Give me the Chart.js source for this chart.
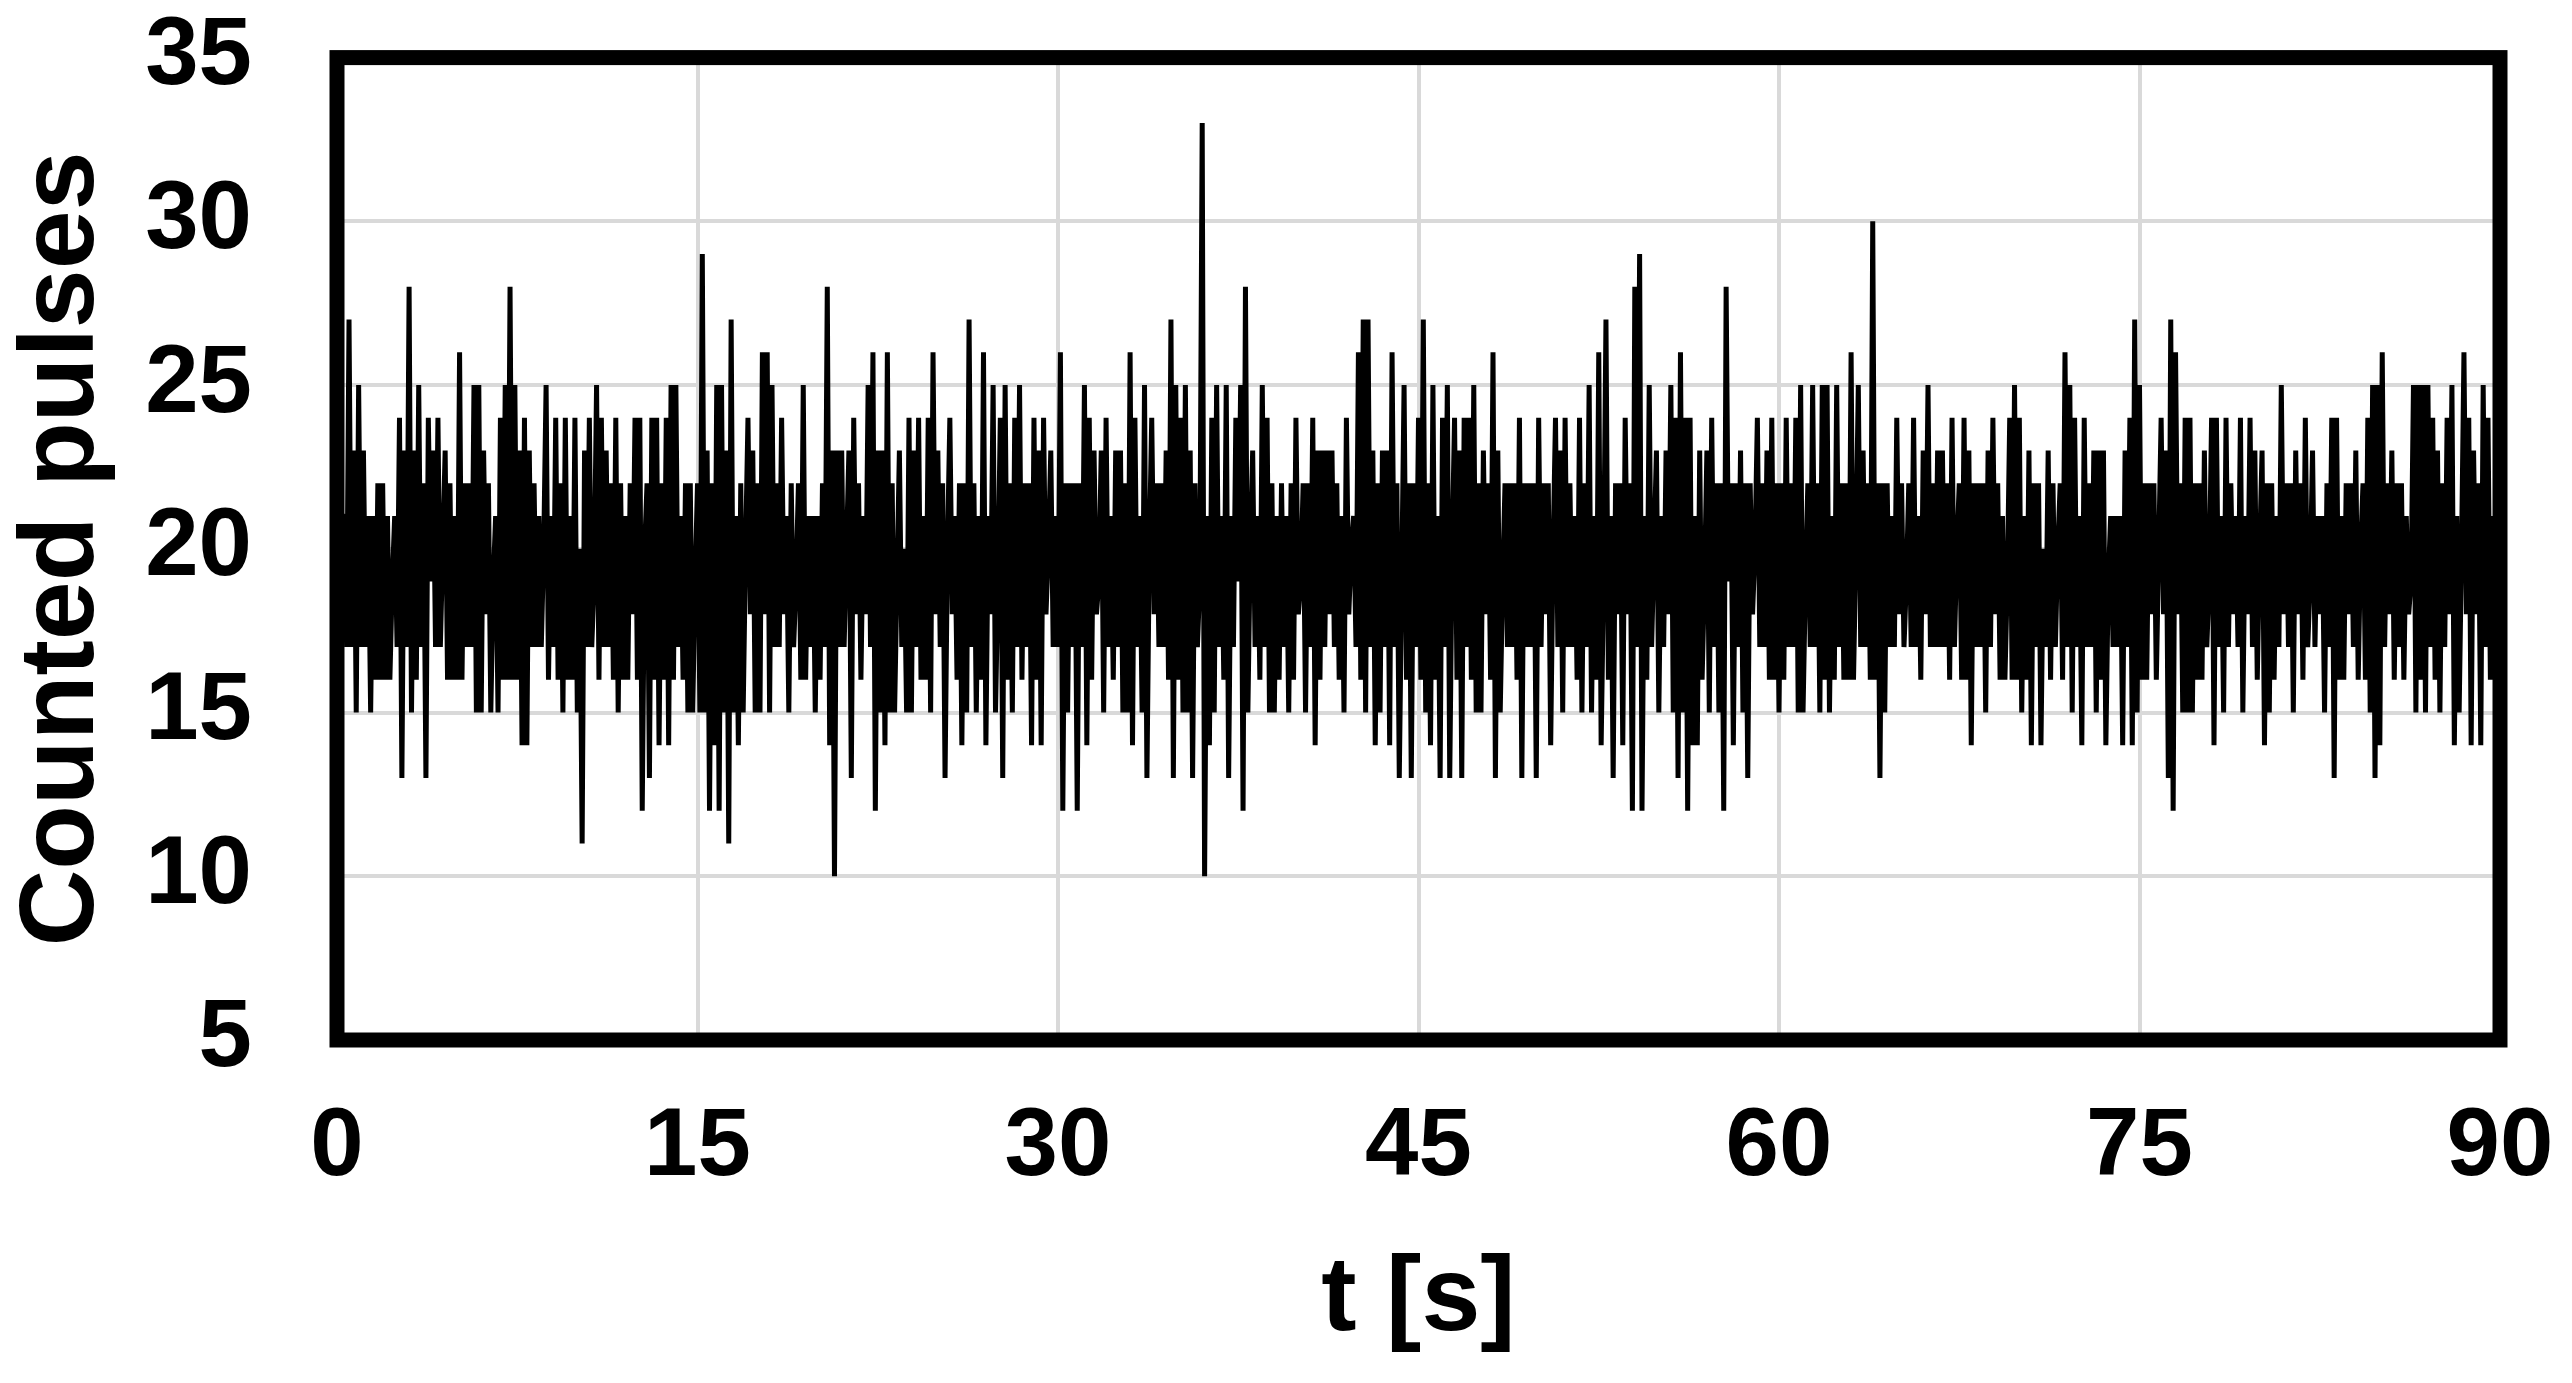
<!DOCTYPE html>
<html>
<head>
<meta charset="utf-8">
<title>Counted pulses</title>
<script src="https://cdn.jsdelivr.net/npm/chart.js@4.4.1/dist/chart.umd.min.js"></script>
<style>
  html, body { margin: 0; padding: 0; background: #fff; }
  canvas { display: block; }
</style>
</head>
<body>
<canvas id="pulseChart" width="2572" height="1383"></canvas>
<script>
// counts per 0.1 s gate (t = 0 .. 90 s)
const dt = 0.1;
const counts = [
  20,18,21,
  21,17,27,17,23,15,25,17,23,17,21,15,21,16,22,16,22,16,21,16,19,
  21,17,24,13,23,17,28,15,23,16,25,17,22,13,24,19,23,17,24,17,20,
  23,16,22,16,21,16,26,16,22,17,22,17,25,15,25,15,23,18,22,15,19,
  21,15,24,16,25,16,28,16,25,16,23,14,24,14,23,17,22,17,21,17,20,
  25,16,21,17,24,16,22,15,24,16,21,16,24,15,20,11,23,17,24,17,19,
  25,16,24,17,23,17,22,16,24,15,22,16,21,16,22,18,24,16,24,12,20,
  22,13,24,16,24,14,22,16,24,14,25,16,25,17,21,16,22,15,22,15,19,
  22,15,29,15,23,12,22,14,25,12,25,15,23,11,27,15,21,14,22,15,20,
  24,18,23,15,22,15,26,18,26,15,25,17,22,17,24,18,21,15,22,17,19,
  22,16,25,16,21,17,21,15,21,16,22,17,28,14,23,10,23,17,23,17,20,
  23,13,24,18,22,16,21,18,25,17,26,12,23,15,23,14,26,15,22,15,19,
  23,17,20,15,24,15,23,17,24,16,21,16,24,15,26,18,23,17,22,13,20,
  24,18,21,16,22,14,22,15,27,17,22,15,21,16,26,14,21,18,25,15,19,
  24,13,25,16,22,15,24,17,25,16,22,17,22,14,24,16,23,14,24,18,20,
  23,17,21,17,26,12,22,15,22,17,22,12,22,17,25,14,24,16,23,18,19,
  23,15,24,17,21,16,23,17,23,15,22,15,26,14,24,17,21,15,25,13,20,
  24,18,22,17,22,17,23,16,27,13,25,16,24,15,25,15,23,13,22,17,19,
  33,10,21,14,24,15,25,17,21,16,25,13,21,17,24,19,25,12,28,15,20,
  23,17,21,16,25,17,24,15,22,15,21,16,22,17,21,15,22,16,24,18,19,
  22,15,22,17,24,14,23,16,23,17,23,18,23,17,22,16,21,15,24,18,20,
  21,17,26,16,27,15,27,17,23,14,22,15,23,17,23,14,26,17,22,13,19,
  25,16,22,13,22,17,24,16,27,15,22,14,25,16,21,13,24,17,25,13,20,
  24,16,23,13,24,17,24,16,25,15,22,15,23,18,22,16,26,13,23,15,19,
  22,17,22,17,22,16,24,13,22,17,22,17,22,13,24,17,22,18,22,14,20,
  24,17,23,15,24,17,22,17,21,16,24,15,22,17,25,15,21,16,26,14,19,
  27,16,21,13,22,18,22,14,24,18,22,12,28,17,29,12,21,16,25,17,20,
  23,15,21,17,23,18,25,15,24,13,26,15,24,12,24,14,21,14,23,16,19,
  23,15,24,17,22,15,22,12,28,19,22,14,22,17,23,15,22,13,22,18,20,
  24,17,22,17,23,16,24,16,22,15,22,16,24,17,22,17,24,15,25,15,19,
  22,17,25,17,22,15,25,16,25,15,21,16,25,17,22,16,22,16,26,16,20,
  25,17,23,17,22,16,30,16,22,13,22,15,22,17,21,17,24,18,22,17,19,
  22,17,24,17,21,16,23,18,25,17,22,17,23,17,23,17,22,16,24,17,20,
  22,16,24,16,23,14,22,17,22,17,22,15,23,17,24,18,22,16,21,16,19,
  24,16,25,16,24,15,21,16,23,14,22,17,22,14,20,17,23,16,22,17,20,
  22,16,26,17,25,15,24,17,21,14,24,17,22,17,23,15,23,16,23,14,19,
  21,17,21,17,21,14,23,17,24,14,27,15,25,16,22,16,22,18,22,16,20,
  24,18,23,13,27,12,26,18,22,15,24,15,24,15,22,16,22,16,23,17,19,
  24,14,24,17,21,15,24,17,22,18,21,17,24,15,21,18,24,17,23,16,20,
  23,14,22,15,22,16,21,17,25,18,22,17,22,15,23,18,22,16,24,17,19,
  23,17,21,18,21,15,22,17,24,13,24,16,21,16,22,18,22,17,23,16,20,
  22,16,24,15,25,13,25,14,26,17,22,18,23,16,22,17,22,16,21,18,19,
  25,15,25,16,25,15,25,17,24,16,23,15,22,17,24,18,25,14,21,15,20,
  26,18,24,14,23,18,22,14,25,17,24,16,21,16,20,19
];

const xTicks = [0, 15, 30, 45, 60, 75, 90];
const yTicks = [5, 10, 15, 20, 25, 30, 35];

const xTitle = 't [s]';
const yTitle = 'Counted pulses';

const points = counts.map((c, i) => ({ x: +(i * dt).toFixed(1), y: c }));

const fontFamily = "'Liberation Sans', Arial, Helvetica, sans-serif";
const tickFont = { family: fontFamily, size: 96, weight: 'bold', lineHeight: 1.2 };
const titleFont = { family: fontFamily, size: 106, weight: 'bold', lineHeight: 1.2 };

// thick black frame round the plot area
const frame = {
  id: 'frame',
  afterDatasetsDraw(chart) {
    const { ctx, chartArea: a } = chart;
    ctx.save();
    ctx.strokeStyle = '#000';
    ctx.lineWidth = 15;
    ctx.strokeRect(a.left, a.top, a.right - a.left, a.bottom - a.top);
    ctx.restore();
  }
};

// label gap comes from an invisible tick mark, so the edge labels
// don't push the plot area inwards
const gridOpts = gap => ({
  color: '#d9d9d9',
  lineWidth: 4,
  drawTicks: true,
  tickLength: gap,
  tickColor: 'rgba(0,0,0,0)'
});

new Chart(document.getElementById('pulseChart'), {
  type: 'line',
  data: {
    datasets: [{
      data: points,
      borderColor: '#000',
      borderWidth: 5,
      borderJoinStyle: 'bevel',
      pointRadius: 0,
      tension: 0,
      fill: false
    }]
  },
  options: {
    responsive: false,
    animation: false,
    devicePixelRatio: 1,
    layout: { padding: { top: 57, right: 72, bottom: 0, left: 0 } },
    plugins: {
      legend: { display: false },
      tooltip: { enabled: false }
    },
    scales: {
      x: {
        type: 'linear',
        min: 0,
        max: 90,
        afterBuildTicks: s => { s.ticks = xTicks.map(v => ({ value: v })); },
        afterFit: s => { s.height = 343; },
        grid: gridOpts(51),
        border: { display: false },
        ticks: { color: '#000', font: tickFont, padding: 0, maxRotation: 0 },
        title: { display: true, text: xTitle, color: '#000', font: titleFont, padding: { top: 0, bottom: 19 } }
      },
      y: {
        min: 5,
        max: 35,
        afterBuildTicks: s => { s.ticks = yTicks.map(v => ({ value: v })); },
        afterFit: s => { s.width = 337; },
        grid: gridOpts(85),
        border: { display: false },
        ticks: { color: '#000', font: tickFont, padding: 0 },
        title: { display: true, text: yTitle, color: '#000', font: titleFont, padding: { top: 0, bottom: 0 } }
      }
    }
  },
  plugins: [frame]
});
</script>
</body>
</html>
